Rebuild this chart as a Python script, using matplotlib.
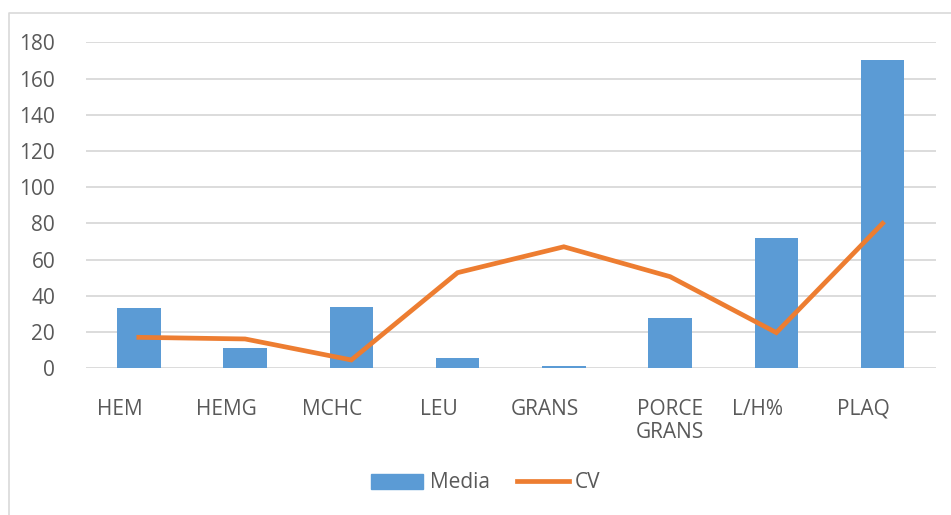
import numpy as np
import matplotlib.pyplot as plt
import matplotlib.transforms as mtransforms
from matplotlib.lines import Line2D
from matplotlib.patches import Patch

plt.rcParams['font.family'] = ['Open Sans', 'DejaVu Sans']

categories = ['HEM', 'HEMG', 'MCHC', 'LEU', 'GRANS', 'PORCE\nGRANS', 'L/H%', 'PLAQ']
media = [33.5, 11.4, 33.8, 5.9, 1.3, 27.8, 72.0, 170.2]
cv = [17.1, 16.2, 4.6, 52.8, 67.1, 50.6, 19.7, 80.0]
yticks = [0, 20, 40, 60, 80, 100, 120, 140, 160, 180]

BLUE = '#5B9BD5'
ORANGE = '#ED7D31'
GRID = '#D9D9D9'
TXT = '#595959'

W, H = 951, 515
fig = plt.figure(figsize=(W / 100, H / 100), dpi=100)
ax = fig.add_axes([85.7 / W, 1 - 368.3 / H, 850 / W, 326 / H])

x = np.arange(len(categories))
ax.bar(x, media, width=0.41, color=BLUE, zorder=2)
ax.plot(x, cv, color=ORANGE, lw=3.4, solid_joinstyle='miter', zorder=3)

ax.set_xlim(-0.5, len(categories) - 0.5)
ax.set_ylim(0, 180)
ax.set_yticks(yticks)
ax.grid(axis='y', color=GRID, lw=1.3, zorder=0)
for s in ax.spines.values():
    s.set_visible(False)
ax.tick_params(axis='y', length=0, pad=22, labelsize=15, labelcolor=TXT)
ax.tick_params(axis='x', length=0, pad=22, labelsize=15, labelcolor=TXT)
ax.set_xticks(x)
ax.set_xticklabels(categories, linespacing=1.15)

# Excel coloca las etiquetas algo a la izquierda de las barras
for lab, txt in zip(ax.get_xticklabels(), categories):
    dx = 0 if '\n' in txt else -19
    lab.set_transform(lab.get_transform() + mtransforms.ScaledTranslation(dx / 100, 0, fig.dpi_scale_trans))

handles = [Patch(color=BLUE, label='Media'), Line2D([], [], color=ORANGE, lw=3.4, label='CV')]
fig.legend(handles=handles, loc='center', bbox_to_anchor=(486 / W, 1 - 483 / H), ncol=2,
           frameon=False, fontsize=15, labelcolor=TXT, handlelength=2.5, handleheight=0.7,
           handletextpad=0.3, columnspacing=1.3)

# borde del área del gráfico
fig.add_artist(Line2D([9 / W, 9 / W, 1], [0, 1 - 13 / H, 1 - 13 / H], transform=fig.transFigure,
                      color=GRID, lw=1.2))

fig.savefig('out.png', dpi=100)
